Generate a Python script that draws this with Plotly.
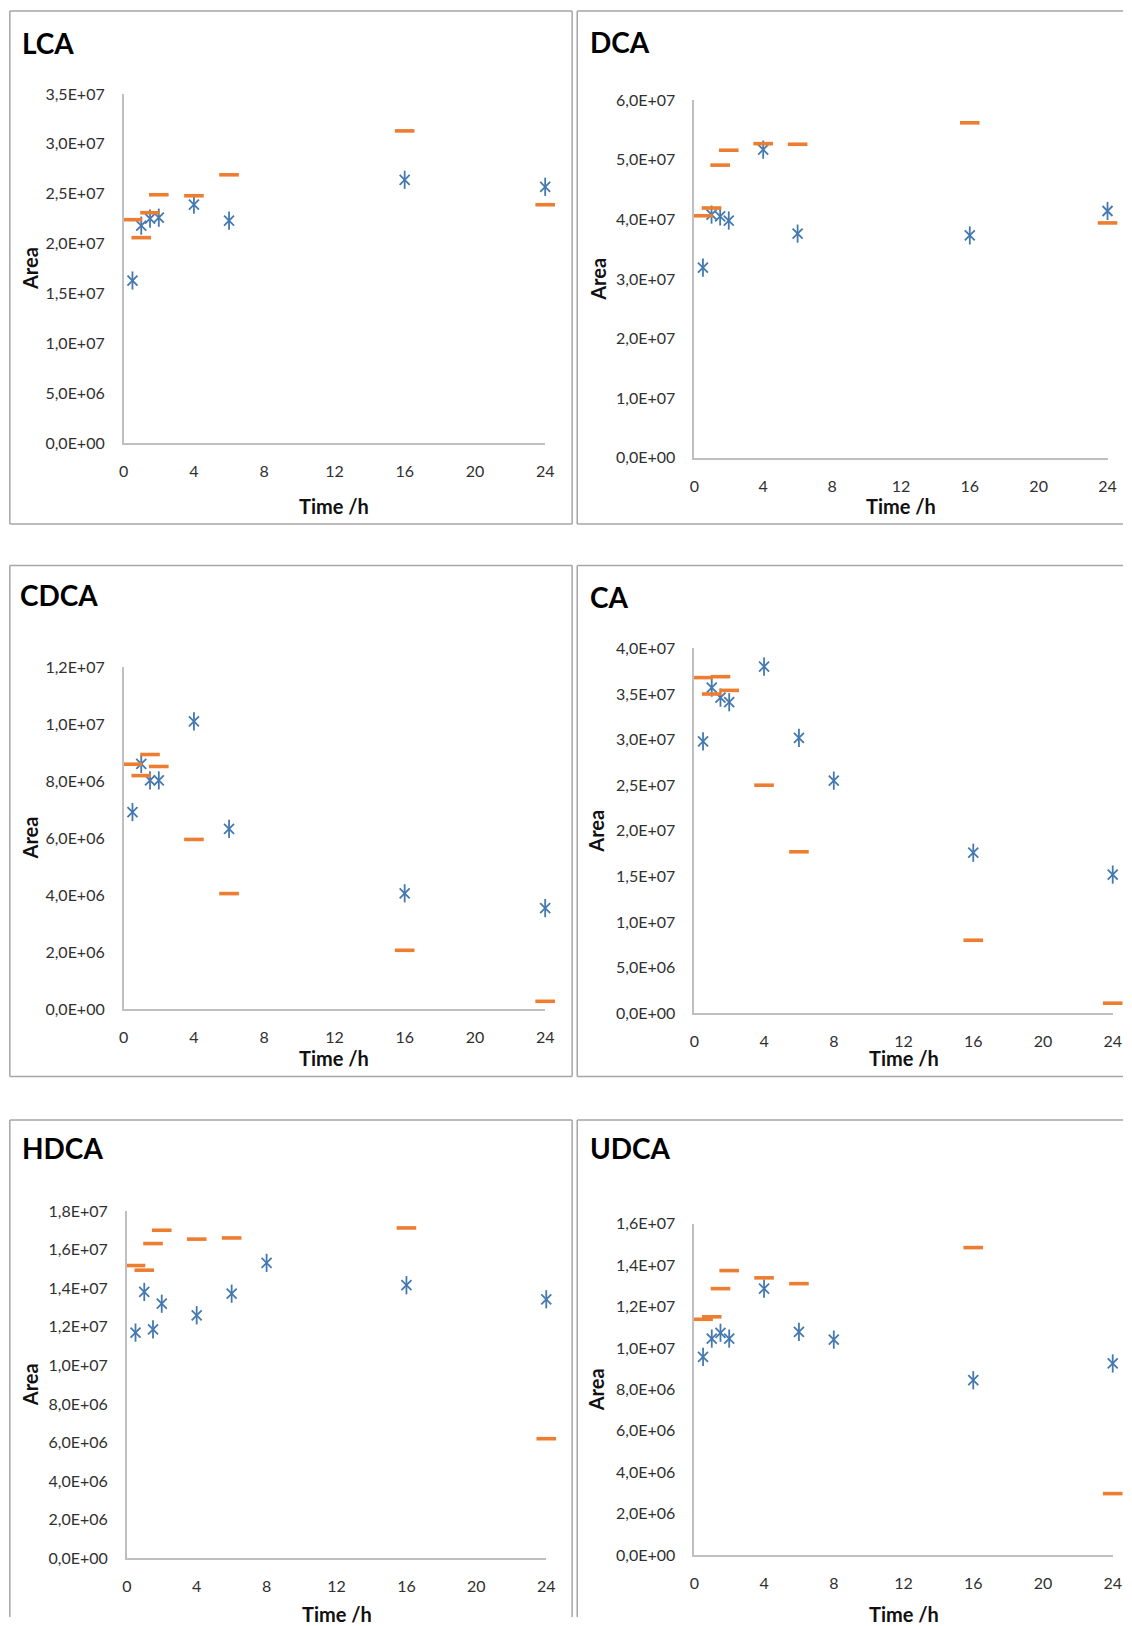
import plotly.graph_objects as go

W, H = 1132, 1626

# ---------------- data ----------------
times = [0.5, 1, 1.5, 2, 4, 6, 8, 16, 24]
panel_names = ["LCA", "DCA", "CDCA", "CA", "HDCA", "UDCA"]

# blue (asterisk) series
lca_blue = [1.63e7, 2.18e7, 2.25e7, 2.26e7, 2.39e7, 2.23e7, None, 2.64e7, 2.57e7]
dca_blue = [3.19e7, 4.08e7, 4.05e7, 3.98e7, 5.17e7, 3.76e7, None, 3.73e7, 4.14e7]
cdca_blue = [6.91e6, 8.60e6, 8.02e6, 8.02e6, 1.009e7, 6.32e6, None, 4.06e6, 3.54e6]
ca_blue = [2.98e7, 3.57e7, 3.46e7, 3.41e7, 3.80e7, 3.02e7, 2.55e7, 1.76e7, 1.52e7]
hdca_blue = [1.17e7, 1.381e7, 1.187e7, 1.32e7, 1.26e7, 1.372e7, 1.532e7, 1.416e7, 1.343e7]
udca_blue = [9.57e6, 1.045e7, 1.073e7, 1.045e7, 1.286e7, 1.077e7, 1.040e7, 8.44e6, 9.25e6]

# orange (dash) series
lca_orange = [2.24e7, 2.06e7, 2.31e7, 2.49e7, 2.48e7, 2.69e7, None, 3.13e7, 2.39e7]
dca_orange = [4.06e7, 4.19e7, 4.91e7, 5.16e7, 5.27e7, 5.26e7, None, 5.62e7, 3.94e7]
cdca_orange = [8.59e6, 8.19e6, 8.93e6, 8.51e6, 5.95e6, 4.05e6, None, 2.06e6, 0.27e6]
ca_orange = [3.68e7, 3.50e7, 3.69e7, 3.54e7, 2.50e7, 1.77e7, None, 0.80e7, 0.11e7]
hdca_orange = [1.518e7, 1.494e7, 1.632e7, 1.701e7, 1.655e7, 1.661e7, None, 1.713e7, 6.2e6]
udca_orange = [1.138e7, 1.150e7, 1.286e7, 1.373e7, 1.338e7, 1.310e7, None, 1.484e7, 2.97e6]

blue_series = [lca_blue, dca_blue, cdca_blue, ca_blue, hdca_blue, udca_blue]
orange_series = [lca_orange, dca_orange, cdca_orange, ca_orange, hdca_orange, udca_orange]

x_ticks = [0, 4, 8, 12, 16, 20, 24]
x_ticktext = ["0", "4", "8", "12", "16", "20", "24"]

lca_yticks = [0, 5e6, 1e7, 1.5e7, 2e7, 2.5e7, 3e7, 3.5e7]
lca_yticktext = ["0,0E+00", "5,0E+06", "1,0E+07", "1,5E+07", "2,0E+07", "2,5E+07", "3,0E+07", "3,5E+07"]
dca_yticks = [0, 1e7, 2e7, 3e7, 4e7, 5e7, 6e7]
dca_yticktext = ["0,0E+00", "1,0E+07", "2,0E+07", "3,0E+07", "4,0E+07", "5,0E+07", "6,0E+07"]
cdca_yticks = [0, 2e6, 4e6, 6e6, 8e6, 1e7, 1.2e7]
cdca_yticktext = ["0,0E+00", "2,0E+06", "4,0E+06", "6,0E+06", "8,0E+06", "1,0E+07", "1,2E+07"]
ca_yticks = [0, 5e6, 1e7, 1.5e7, 2e7, 2.5e7, 3e7, 3.5e7, 4e7]
ca_yticktext = ["0,0E+00", "5,0E+06", "1,0E+07", "1,5E+07", "2,0E+07", "2,5E+07", "3,0E+07", "3,5E+07", "4,0E+07"]
hdca_yticks = [0, 2e6, 4e6, 6e6, 8e6, 1e7, 1.2e7, 1.4e7, 1.6e7, 1.8e7]
hdca_yticktext = ["0,0E+00", "2,0E+06", "4,0E+06", "6,0E+06", "8,0E+06", "1,0E+07", "1,2E+07", "1,4E+07", "1,6E+07", "1,8E+07"]
udca_yticks = [0, 2e6, 4e6, 6e6, 8e6, 1e7, 1.2e7, 1.4e7, 1.6e7]
udca_yticktext = ["0,0E+00", "2,0E+06", "4,0E+06", "6,0E+06", "8,0E+06", "1,0E+07", "1,2E+07", "1,4E+07", "1,6E+07"]

y_ticks = [lca_yticks, dca_yticks, cdca_yticks, ca_yticks, hdca_yticks, udca_yticks]
y_ticktexts = [lca_yticktext, dca_yticktext, cdca_yticktext, ca_yticktext, hdca_yticktext, udca_yticktext]

# ---------------- layout (pixel geometry, as measured on the reference) ----------------
# plot area: x0 px, x24 px, y(bottom) px, y(top) px
areas = [
    (122.3, 544.2, 442.6, 93.3),
    (693.5, 1107.1, 457.1, 99.5),
    (122.3, 544.2, 1008.6, 666.5),
    (693.5, 1112.3, 1012.8, 647.9),
    (125.4, 545.3, 1558.0, 1210.8),
    (693.5, 1112.3, 1554.9, 1223.2),
]
# panel boxes: left, top, right, bottom (None = runs off the page)
boxes = [
    (8.3, 10.4, 571.2, 523.5),
    (576.3, 10.4, None, 523.5),
    (8.3, 565.0, 571.2, 1076.0),
    (576.3, 565.0, None, 1076.0),
    (8.3, 1119.5, 571.2, None),
    (576.3, 1119.5, None, None),
]
title_pos = [(18.7, 42.5), (586.7, 41.5), (16.6, 594), (586.7, 596), (18.7, 1147.5), (586.7, 1147.5)]
area_x = [28, 597, 29, 595, 28, 595]
time_y = [505.9, 505.9, 1057.3, 1057.3, 1614, 1614]

# calibration of the capture (measured render offset / scale)
SC = 0.9886
CX, CY = 3.5, 9.3

BLUE = "#4479b0"
ORANGE = "#ED7D31"
FONT = "Lato"
TICK_FONT = dict(family=FONT, size=16, color="#303030")


def px(x):
    return ((x - CX) / SC) / W


def py(y):
    return 1 - ((y - CY) / SC) / H


fig = go.Figure()
layout = dict(
    width=W, height=H, margin=dict(l=0, r=0, t=0, b=0),
    paper_bgcolor="white", plot_bgcolor="white", showlegend=False,
    font=dict(family=FONT, color="#303030"),
)
annotations = []
shapes = []

for i, name in enumerate(panel_names):
    sfx = "" if i == 0 else str(i + 1)
    xa, ya = "x" + sfx, "y" + sfx
    x0, x1, yb, yt = areas[i]
    ymax = y_ticks[i][-1]

    # blue asterisk = X + vertical line
    fig.add_trace(go.Scatter(
        x=times, y=blue_series[i], mode="markers", xaxis=xa, yaxis=ya, cliponaxis=False,
        marker=dict(symbol="x-thin", size=10, line=dict(color=BLUE, width=1.8), color=BLUE)))
    fig.add_trace(go.Scatter(
        x=times, y=blue_series[i], mode="markers", xaxis=xa, yaxis=ya, cliponaxis=False,
        marker=dict(symbol="line-ns", size=13, line=dict(color=BLUE, width=1.8), color=BLUE)))
    # orange dash
    fig.add_trace(go.Scatter(
        x=times, y=orange_series[i], mode="markers", xaxis=xa, yaxis=ya, cliponaxis=False,
        marker=dict(symbol="line-ew", size=14, line=dict(color=ORANGE, width=3.6), color=ORANGE)))

    layout["xaxis" + sfx] = dict(
        domain=[px(x0), px(x1)], range=[0, 24], anchor=ya,
        tickvals=x_ticks, ticktext=x_ticktext, showgrid=False, zeroline=False,
        showline=True, linecolor="#bfbfbf", linewidth=1.5, ticks="",
        ticklabelstandoff=13, tickfont=TICK_FONT, fixedrange=True)
    layout["yaxis" + sfx] = dict(
        domain=[py(yb), py(yt)], range=[0, ymax], anchor=xa,
        tickvals=y_ticks[i], ticktext=y_ticktexts[i], showgrid=False, zeroline=False,
        showline=True, linecolor="#bfbfbf", linewidth=1.5, ticks="",
        ticklabelstandoff=14, tickfont=TICK_FONT, fixedrange=True)

    # panel frame as an open path (sides that run off the page are left open)
    bl, bt, br, bb = boxes[i]
    L, T = px(bl), py(bt)
    R = px(br) if br is not None else 1.0
    B = py(bb) if bb is not None else 0.0
    segs = [f"M{L},{T} L{R},{T}", f"M{L},{T} L{L},{B}"]
    if br is not None:
        segs.append(f"M{R},{T} L{R},{B}")
    if bb is not None:
        segs.append(f"M{L},{B} L{R},{B}")
    shapes.append(dict(type="path", xref="paper", yref="paper", path=" ".join(segs),
                       line=dict(color="#a6a6a6", width=1.5), layer="below"))

    tx, ty = title_pos[i]
    annotations.append(dict(text="<b>" + name + "</b>", xref="paper", yref="paper",
                            x=px(tx), y=py(ty), xanchor="left", yanchor="middle",
                            showarrow=False, font=dict(family=FONT, size=28, color="black")))
    annotations.append(dict(text="<b>Area</b>", xref="paper", yref="paper",
                            x=px(area_x[i]), y=py((yb + yt) / 2), xanchor="center", yanchor="middle",
                            textangle=-90, showarrow=False,
                            font=dict(family=FONT, size=20, color="#111")))
    annotations.append(dict(text="<b>Time /h</b>", xref="paper", yref="paper",
                            x=px((x0 + x1) / 2), y=py(time_y[i]), xanchor="center", yanchor="middle",
                            showarrow=False, font=dict(family=FONT, size=20, color="#111")))

layout["annotations"] = annotations
layout["shapes"] = shapes
fig.update_layout(**layout)
fig.write_html(
    "out.html",
    config={"displayModeBar": False},
    post_script="document.body.style.margin='0px';",
)
